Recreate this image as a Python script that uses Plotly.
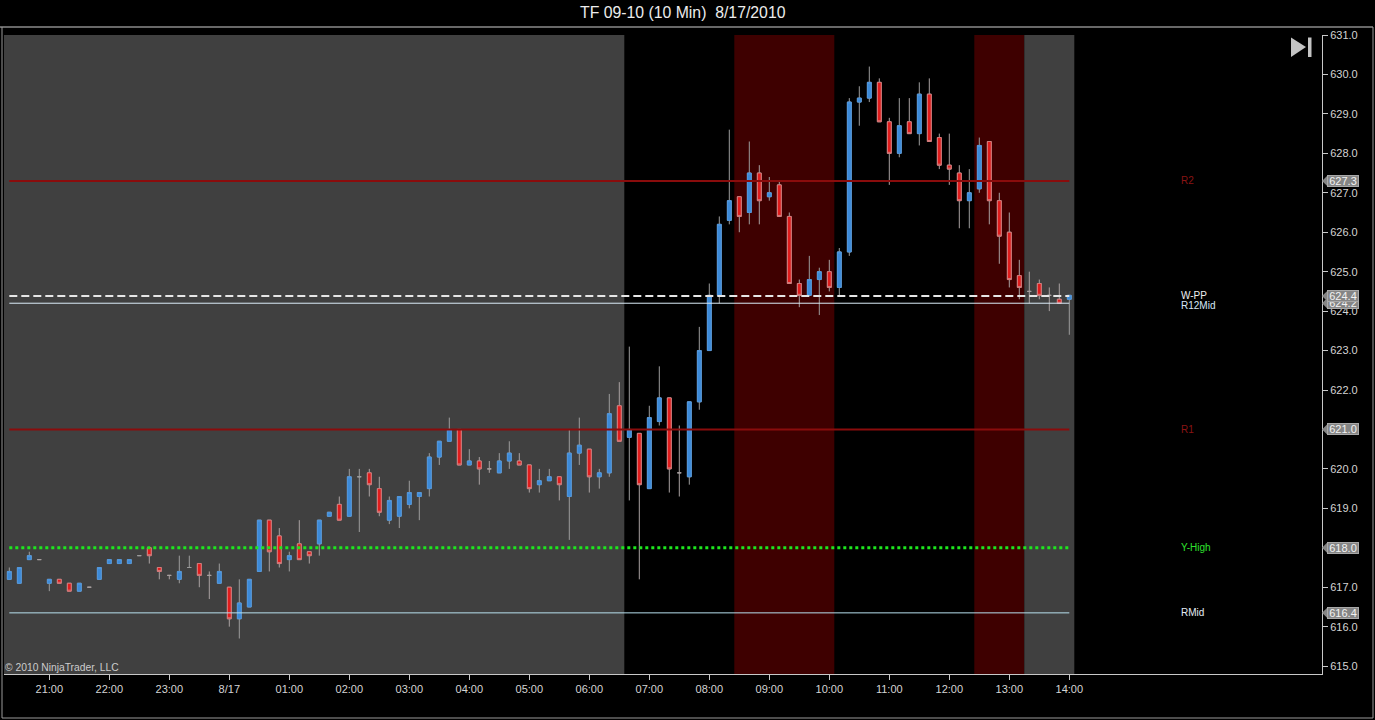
import pandas as pd
import plotly.graph_objects as go

# ---------------- data ----------------
times = pd.date_range("2010-08-16 20:20", periods=107, freq="10min")

opens = [617.2, 617.1, 617.7, 617.7, 617.1, 617.2, 617.1, 616.9, 617.0, 617.2,
         617.6, 617.6, 617.6, 617.8, 618.0, 617.5, 617.3, 617.2, 617.5, 617.6,
         617.3, 617.1, 617.0, 616.2, 616.5, 617.4, 618.7, 618.3, 617.7, 618.1,
         617.9, 618.1, 618.8, 619.1, 618.8, 619.8, 619.9, 619.5, 618.7, 618.8,
         619.1, 619.3, 619.5, 620.3, 620.7, 621.0, 620.1, 620.2, 620.0, 619.9,
         620.2, 620.2, 620.1, 619.6, 619.7, 619.8, 619.3, 620.4, 620.5, 619.8,
         619.9, 621.6, 620.8, 620.9, 619.5, 621.2, 621.8, 619.9, 619.8, 621.7,
         623.0, 624.4, 626.3, 626.9, 626.5, 627.5, 626.9, 627.2, 626.4, 624.7,
         624.4, 624.8, 625.0, 624.6, 625.5, 629.3, 629.4, 629.8, 628.8, 628.0,
         628.8, 628.5, 629.5, 628.4, 627.7, 627.5, 626.8, 627.1, 628.3, 626.8,
         626.0, 624.9, 624.5, 624.7, 624.4, 624.3, 624.3]
highs = [617.5, 617.5, 617.9, 617.7, 617.2, 617.2, 617.1, 617.1, 617.0, 617.5,
         617.7, 617.7, 617.7, 617.8, 618.0, 617.5, 617.3, 617.8, 617.8, 617.6,
         617.4, 617.6, 617.0, 617.2, 617.2, 618.7, 618.7, 618.5, 617.9, 618.7,
         617.9, 618.7, 618.9, 619.3, 620.0, 620.0, 620.0, 619.8, 619.3, 619.3,
         619.7, 619.4, 620.4, 620.7, 621.3, 621.0, 620.5, 620.3, 620.2, 620.4,
         620.7, 620.4, 620.1, 620.0, 620.0, 619.8, 621.0, 621.3, 620.5, 620.0,
         621.9, 622.2, 623.1, 620.9, 621.6, 622.6, 621.8, 621.1, 621.7, 623.6,
         624.7, 626.4, 628.6, 626.9, 628.3, 627.7, 627.4, 627.3, 626.5, 624.8,
         625.4, 625.1, 625.3, 625.6, 629.4, 629.7, 630.2, 629.9, 628.9, 629.4,
         629.4, 629.8, 629.9, 628.5, 628.5, 627.7, 627.6, 628.4, 628.3, 627.0,
         626.5, 625.3, 625.0, 624.8, 624.6, 624.7, 624.4]
lows = [617.2, 617.1, 617.7, 617.7, 616.9, 617.1, 616.9, 616.9, 617.0, 617.2,
        617.6, 617.6, 617.6, 617.8, 617.6, 617.2, 617.2, 617.1, 617.5, 617.0,
        616.7, 617.1, 616.0, 615.7, 616.5, 617.4, 617.4, 617.5, 617.4, 617.7,
        617.6, 617.8, 618.8, 618.7, 618.8, 618.4, 619.3, 618.8, 618.6, 618.5,
        619.0, 618.7, 619.3, 620.1, 620.7, 620.1, 620.1, 619.6, 619.9, 619.9,
        620.0, 620.1, 619.4, 619.4, 619.7, 619.2, 618.2, 620.1, 619.4, 619.5,
        619.8, 620.7, 619.2, 617.2, 619.5, 621.1, 619.4, 619.3, 619.6, 621.5,
        623.0, 624.2, 626.2, 626.0, 626.2, 626.2, 626.8, 626.4, 624.7, 624.1,
        624.4, 623.9, 624.5, 624.4, 625.4, 628.7, 629.3, 628.8, 627.2, 627.9,
        628.5, 628.2, 628.3, 627.6, 627.2, 626.1, 626.1, 627.0, 626.2, 625.2,
        624.6, 624.3, 624.2, 624.3, 624.0, 624.2, 623.4]
closes = [617.4, 617.5, 617.8, 617.7, 617.2, 617.1, 616.9, 617.1, 617.0, 617.5,
          617.7, 617.7, 617.7, 617.8, 617.8, 617.4, 617.3, 617.4, 617.5, 617.3,
          617.3, 617.4, 616.2, 616.6, 617.2, 618.7, 617.9, 617.6, 617.8, 617.7,
          617.8, 618.7, 618.9, 618.7, 619.8, 619.8, 619.6, 618.9, 619.2, 619.3,
          619.4, 619.4, 620.3, 620.7, 621.0, 620.1, 620.2, 620.0, 620.0, 620.2,
          620.4, 620.1, 619.5, 619.7, 619.8, 619.6, 620.4, 620.6, 619.8, 619.9,
          621.4, 620.7, 621.0, 619.6, 621.3, 621.8, 620.0, 619.9, 621.7, 623.0,
          624.4, 626.2, 626.8, 626.4, 627.5, 626.8, 627.0, 626.4, 624.7, 624.4,
          624.8, 625.0, 624.6, 625.5, 629.3, 629.4, 629.8, 628.8, 628.0, 628.7,
          628.5, 629.5, 628.3, 627.7, 627.6, 626.8, 627.0, 628.2, 626.8, 625.9,
          624.8, 624.6, 624.5, 624.4, 624.4, 624.2, 624.4]

level_names = ["R2", "W-PP", "R12Mid", "R1", "Y-High", "RMid"]
level_values = [627.3, 624.38, 624.2, 621.0, 618.0, 616.35]
level_tags = ["627.3", "624.4", "624.2", "621.0", "618.0", "616.4"]
level_line_colors = ["#8a0c0c", "#e6e6e6", "#dcecf8", "#8a0c0c", "#1ee61e", "#b8e0ee"]
level_text_colors = ["#8a1414", "#eeeeee", "#d6e8f8", "#8a1414", "#2ee02e", "#e4ecf4"]
level_dash = ["solid", "8px,4px", "solid", "solid", "3px,3px", "solid"]
level_width = [2, 2, 1, 2, 3, 1]

band_x0 = ["2010-08-16 20:14:42", "2010-08-17 08:25", "2010-08-17 12:25", "2010-08-17 13:15"]
band_x1 = ["2010-08-17 06:35", "2010-08-17 10:05", "2010-08-17 13:15", "2010-08-17 14:05"]
band_colors = ["#404040", "#3e0000", "#3e0000", "#404040"]

tick_times = pd.date_range("2010-08-16 21:00", "2010-08-17 14:00", freq="60min")
tick_labels = ["21:00", "22:00", "23:00", "8/17", "01:00", "02:00", "03:00", "04:00",
               "05:00", "06:00", "07:00", "08:00", "09:00", "10:00", "11:00", "12:00",
               "13:00", "14:00"]

title_text = "TF 09-10 (10 Min)  8/17/2010"
copyright_text = "\u00a9 2010 NinjaTrader, LLC"

# ---------------- geometry helpers (pixel -> paper) ----------------
W, H = 1375, 720
ML, MR, MT, MB = 4, 53, 35, 46
PW = W - ML - MR
PH = H - MT - MB


def px(x):
    return (x - ML) / PW


def py(y):
    return (H - MB - y) / PH


FONT = "Liberation Sans, Arial, sans-serif"
AXIS_COL = "#c8c8c8"

fig = go.Figure()

# candles: wicks + bodies (gray outline)
fig.add_trace(go.Candlestick(
    x=times, open=opens, high=highs, low=lows, close=closes,
    increasing=dict(fillcolor="#3c8ad8", line=dict(color="#9c9c9c", width=1)),
    decreasing=dict(fillcolor="#e01c1c", line=dict(color="#a8a0a0", width=1)),
    hoverinfo="skip", whiskerwidth=0,
))

# body overlay (colored outline for non-doji bodies)
b_open = [o if o != c else None for o, c in zip(opens, closes)]
b_close = [c if o != c else None for o, c in zip(opens, closes)]
b_hi = [max(o, c) if o != c else None for o, c in zip(opens, closes)]
b_lo = [min(o, c) if o != c else None for o, c in zip(opens, closes)]
fig.add_trace(go.Candlestick(
    x=times, open=b_open, high=b_hi, low=b_lo, close=b_close,
    increasing=dict(fillcolor="#3c8ad8", line=dict(color="#4f96dc", width=1)),
    decreasing=dict(fillcolor="#e01c1c", line=dict(color="#d47a7a", width=1)),
    hoverinfo="skip", whiskerwidth=0,
))

# level lines
for name, val, lc, dash, lw in zip(level_names, level_values, level_line_colors, level_dash, level_width):
    fig.add_trace(go.Scatter(
        x=[times[0], times[-1]], y=[val, val], mode="lines",
        line=dict(color=lc, width=lw, dash=dash), hoverinfo="skip",
    ))

shapes = []
for x0, x1, col in zip(band_x0, band_x1, band_colors):
    shapes.append(dict(type="rect", xref="x", yref="paper", x0=x0, x1=x1, y0=0, y1=1,
                       fillcolor=col, line=dict(width=0), layer="below"))

# title separator and frame
shapes.append(dict(type="line", xref="paper", yref="paper", x0=px(0), x1=px(1373),
                   y0=py(27), y1=py(27), line=dict(color="#cfcfcf", width=1)))
shapes.append(dict(type="line", xref="paper", yref="paper", x0=px(2), x1=px(2),
                   y0=py(27), y1=py(718), line=dict(color="#9a9a9a", width=1)))
shapes.append(dict(type="line", xref="paper", yref="paper", x0=px(1373), x1=px(1373),
                   y0=py(27), y1=py(718), line=dict(color="#9a9a9a", width=1)))
shapes.append(dict(type="line", xref="paper", yref="paper", x0=px(2), x1=px(1373),
                   y0=py(718), y1=py(718), line=dict(color="#9a9a9a", width=1)))

# skip-to-end icon
shapes.append(dict(type="path", xref="paper", yref="paper",
                   path=f"M {px(1291)} {py(37.5)} L {px(1306)} {py(47)} L {px(1291)} {py(57)} Z",
                   fillcolor="#c4c4c4", line=dict(width=0)))
shapes.append(dict(type="rect", xref="paper", yref="paper", x0=px(1308), x1=px(1311.5),
                   y0=py(37.5), y1=py(57), fillcolor="#c4c4c4", line=dict(width=0)))

annotations = []
# level labels
for name, val, tc in zip(level_names, level_values, level_text_colors):
    yoff = 0
    if name == "W-PP":
        yoff = 1
    if name == "R12Mid":
        yoff = -2
    annotations.append(dict(x=px(1179), xref="paper", y=val, yref="y", text=name,
                            showarrow=False, xanchor="left", yanchor="middle", yshift=yoff,
                            font=dict(family=FONT, size=10, color=tc)))

# price tags at right axis (drawn bottom-up so upper tags sit on top)
for val, tag in sorted(zip(level_values, level_tags)):
    annotations.append(dict(x=px(1327), xref="paper", y=val, yref="y", text=tag,
                            showarrow=False, xanchor="left", yanchor="middle",
                            width=30, height=10,
                            bgcolor="#858585", bordercolor="#a8a8a8", borderwidth=1, borderpad=0,
                            font=dict(family=FONT, size=11, color="#f2f2f2")))
    shapes.append(dict(type="path", xref="paper", yref="y",
                       path=f"M {px(1322)} {val} L {px(1328)} {val + 0.15} L {px(1328)} {val - 0.15} Z",
                       fillcolor="#858585", line=dict(width=0)))

annotations.append(dict(x=px(683), xref="paper", y=py(13), yref="paper", text=title_text,
                        showarrow=False, xanchor="center", yanchor="middle",
                        font=dict(family=FONT, size=15.8, color="#ececec")))
annotations.append(dict(x=px(3), xref="paper", y=py(667), yref="paper", text=copyright_text,
                        showarrow=False, xanchor="left", yanchor="middle",
                        font=dict(family=FONT, size=10.3, color="#cccccc")))

fig.update_layout(
    width=W, height=H,
    margin=dict(l=ML, r=MR, t=MT, b=MB, pad=0),
    paper_bgcolor="black", plot_bgcolor="black",
    showlegend=False, boxgap=0.45, boxmode="overlay",
    shapes=shapes, annotations=annotations,
    font=dict(family=FONT, color=AXIS_COL, size=11),
    xaxis=dict(
        type="date", range=["2010-08-16 20:14:42", "2010-08-17 18:12:42"],
        rangeslider=dict(visible=False), showgrid=False, zeroline=False,
        tickvals=tick_times, ticktext=tick_labels,
        ticks="outside", ticklen=5, tickcolor=AXIS_COL,
        showline=True, linecolor=AXIS_COL, linewidth=1,
        tickfont=dict(family=FONT, size=11, color="#d4d4d4"), automargin=False,
    ),
    yaxis=dict(
        side="right", range=[614.8, 631.0], dtick=1, tick0=615, tickformat=".1f",
        showgrid=False, zeroline=False, ticks="outside", ticklen=5, tickcolor=AXIS_COL,
        showline=True, linecolor=AXIS_COL, linewidth=1,
        tickfont=dict(family=FONT, size=11, color="#d4d4d4"), automargin=False,
    ),
)

fig.write_html(
    "out.html",
    config={"displayModeBar": False},
    post_script="document.body.style.margin='0px'; document.body.style.background='black'; document.body.style.overflow='hidden';",
)
